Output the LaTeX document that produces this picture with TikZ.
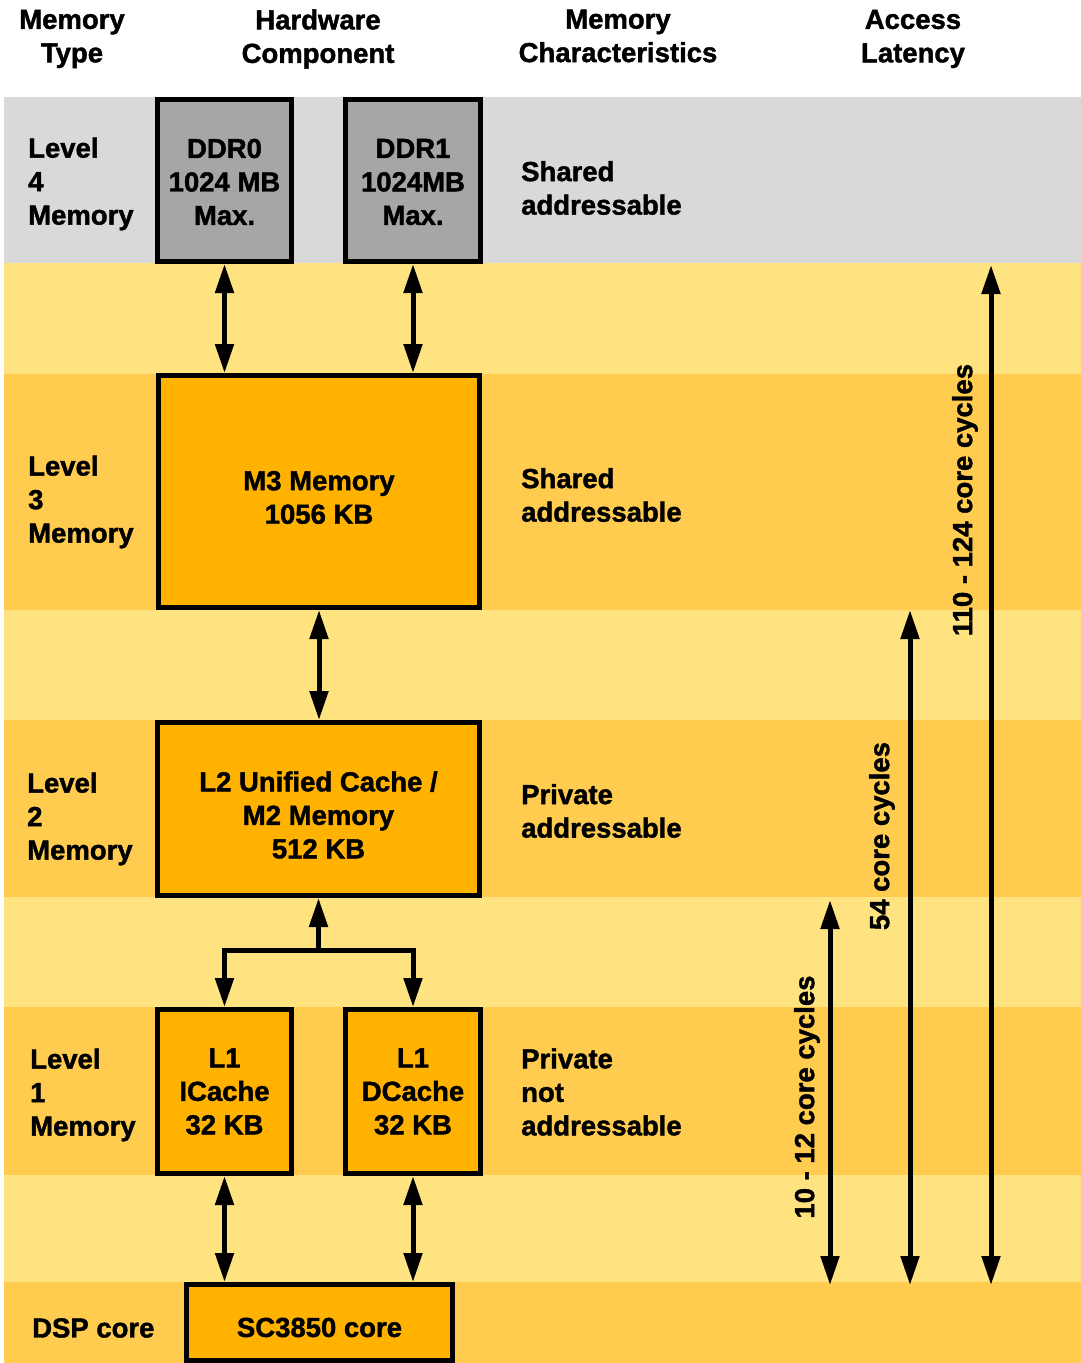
\documentclass[tikz,border=0pt]{standalone}
\usepackage{fontspec}
\setmainfont{Liberation Sans}[BoldFeatures={FakeBold=1.5}]
\usetikzlibrary{arrows.meta}
\definecolor{bandgray}{HTML}{D9D9D9}
\definecolor{bandlight}{HTML}{FFE380}
\definecolor{banddeep}{HTML}{FFCC4F}
\definecolor{boxorange}{HTML}{FFB300}
\definecolor{boxgray}{HTML}{A6A6A6}
\begin{document}
\begin{tikzpicture}[x=1pt,y=-1pt,
  every node/.style={font=\fontsize{27.5}{33.5}\selectfont\bfseries, inner sep=0pt},
  memblock/.style={draw=black, line width=5pt, fill=boxorange},
  ddrblock/.style={memblock, fill=boxgray},
  blocktext/.style={align=center},
  sidetext/.style={anchor=west, align=left},
  headtext/.style={align=center},
  link/.style={line width=5pt, line join=miter},
  both/.style={link, {Triangle[length=29pt,width=18pt]}-{Triangle[length=29pt,width=18pt]}},
  down/.style={link, -{Triangle[length=29pt,width=18pt]}}
]
\useasboundingbox (0,0) rectangle (1081,1363);
\fill[white] (0,0) rectangle (1081,1363);

% horizontal bands
\fill[bandgray]  (4,97)   rectangle (1081,263);
\fill[bandlight] (4,263)  rectangle (1081,374);
\fill[banddeep]  (4,374)  rectangle (1081,610);
\fill[bandlight] (4,610)  rectangle (1081,720);
\fill[banddeep]  (4,720)  rectangle (1081,897);
\fill[bandlight] (4,897)  rectangle (1081,1007);
\fill[banddeep]  (4,1007) rectangle (1081,1175);
\fill[bandlight] (4,1175) rectangle (1081,1282);
\fill[banddeep]  (4,1282) rectangle (1081,1363);

% column headings
\node[headtext] (hType)  at (72,39)  {Memory\\Type};
\node[headtext] (hComp)  at (318,39) {Hardware\\Component};
\node[headtext] (hChar)  at (618,36) {Memory\\Characteristics};
\node[headtext] (hLat)   at (913,39) {Access\\Latency};

% memory levels
\node[sidetext] (lv4) at (28,184)  {Level\\4\\Memory};
\node[sidetext] (lv3) at (28,502)  {Level\\3\\Memory};
\node[sidetext] (lv2) at (27,819)  {Level\\2\\Memory};
\node[sidetext] (lv1) at (30,1095) {Level\\1\\Memory};
\node[sidetext] (lv0) at (32,1328) {DSP core};

% characteristics
\node[sidetext] (ch4) at (521,188)  {Shared\\addressable};
\node[sidetext] (ch3) at (521,495)  {Shared\\addressable};
\node[sidetext] (ch2) at (521,811)  {Private\\addressable};
\node[sidetext] (ch1) at (521,1092) {Private\\not\\addressable};

% hardware blocks
\node[ddrblock, minimum width=134pt, minimum height=162pt] (ddr0) at (224.5,180.5) {};
\node[ddrblock, minimum width=135pt, minimum height=162pt] (ddr1) at (413,180.5) {};
\node[memblock, minimum width=321pt, minimum height=232pt] (m3) at (319,491.5) {};
\node[memblock, minimum width=322pt, minimum height=173pt] (l2) at (318.5,809) {};
\node[memblock, minimum width=134pt, minimum height=164pt] (l1i) at (224.5,1091.5) {};
\node[memblock, minimum width=135pt, minimum height=164pt] (l1d) at (413,1091.5) {};
\node[memblock, minimum width=266pt, minimum height=76pt] (core) at (319.5,1322.5) {};

% block captions
\node[blocktext] (ddr0t) at ([yshift=-1.5pt]ddr0.center) {DDR0\\1024 MB\\Max.};
\node[blocktext] (ddr1t) at ([yshift=-1.5pt]ddr1.center) {DDR1\\1024MB\\Max.};
\node[blocktext] (m3t)   at ([yshift=-6pt]m3.center)     {M3 Memory\\1056 KB};
\node[blocktext] (l2t)   at ([yshift=-6pt]l2.center)     {L2 Unified Cache /\\M2 Memory\\512 KB};
\node[blocktext] (l1it)  at (l1i.center)                 {L1\\ICache\\32 KB};
\node[blocktext] (l1dt)  at (l1d.center)                 {L1\\DCache\\32 KB};
\node[blocktext] (coret) at ([yshift=-5pt]core.center)   {SC3850 core};

% data paths
\draw[both] (ddr0.south) -- (ddr0.south |- m3.north);
\draw[both] (ddr1.south) -- (ddr1.south |- m3.north);
\draw[both] (m3.south) -- (m3.south |- l2.north);
\coordinate (split) at (318.5,950);
\draw[down] (split) -- (l2.south);
\draw[down] (split) -| (l1i.north);
\draw[down] (split) -| (l1d.north);
\draw[both] (l1i.south) -- (l1i.south |- core.north);
\draw[both] (l1d.south) -- (l1d.south |- core.north);

% access latency ranges
\coordinate (lat1a) at (830,900);
\coordinate (lat1b) at (830,1285);
\coordinate (lat2a) at (910,610);
\coordinate (lat2b) at (910,1285);
\coordinate (lat3a) at (991,265);
\coordinate (lat3b) at (991,1285);
\draw[both] (lat1a) -- (lat1b);
\draw[both] (lat2a) -- (lat2b);
\draw[both] (lat3a) -- (lat3b);
\node[rotate=90] (t1) at (807,1097) {10 - 12 core cycles};
\node[rotate=90] (t2) at (882,836)  {54 core cycles};
\node[rotate=90] (t3) at (965,500)  {110 - 124 core cycles};
\end{tikzpicture}
\end{document}
